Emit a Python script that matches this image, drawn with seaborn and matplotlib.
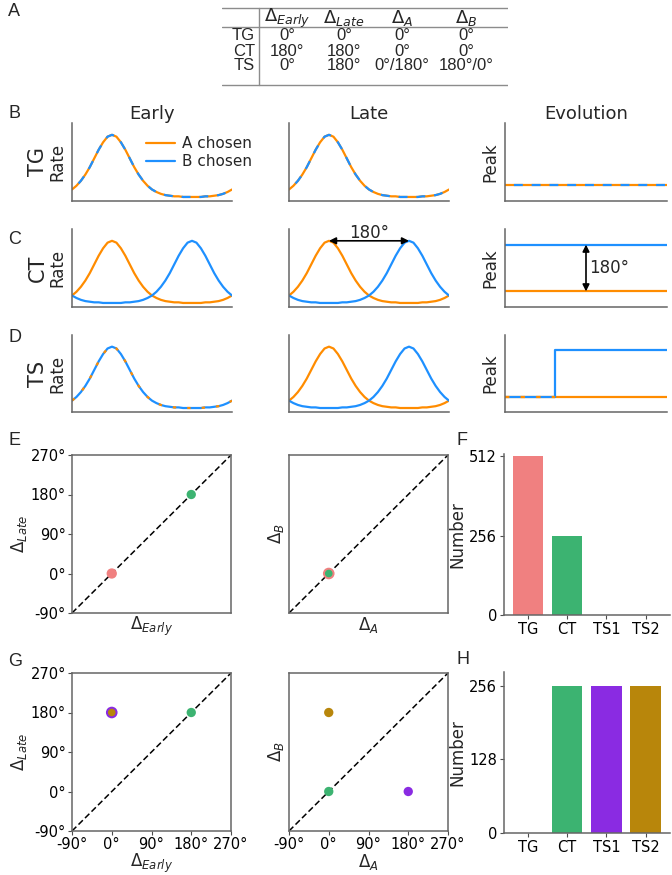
import numpy as np
import pandas as pd
import matplotlib
matplotlib.use("Agg")
import matplotlib.pyplot as plt
import seaborn as sns

angles = [0, 10, 20, 30, 40, 50, 60, 70, 80, 90, 100, 110, 120, 130, 140, 150, 160, 170, 180,
          190, 200, 210, 220, 230, 240, 250, 260, 270, 280, 290, 300, 310, 320, 330, 340, 350, 360]
rate_peak90 = [0.12, 0.18, 0.26, 0.36, 0.48, 0.62, 0.76, 0.88, 0.97, 1.00, 0.97, 0.88, 0.76, 0.62,
               0.48, 0.36, 0.26, 0.18, 0.12, 0.08, 0.05, 0.03, 0.02, 0.01, 0.01, 0.00, 0.00, 0.00,
               0.00, 0.00, 0.01, 0.01, 0.02, 0.03, 0.05, 0.08, 0.12]
rate_peak270 = [0.12, 0.08, 0.05, 0.03, 0.02, 0.01, 0.01, 0.00, 0.00, 0.00, 0.00, 0.00, 0.01, 0.01,
                0.02, 0.03, 0.05, 0.08, 0.12, 0.18, 0.26, 0.36, 0.48, 0.62, 0.76, 0.88, 0.97, 1.00,
                0.97, 0.88, 0.76, 0.62, 0.48, 0.36, 0.26, 0.18, 0.12]

# peak evolution (deg), right column
evo_time = [0, 1]
peak_low = [0, 0]
peak_high = [180, 180]
ts_time = [0, 0.31, 1]
ts_peak_B = [0, 180, 180]
ts_before = [0, 0.31]

# table A
table_cols = [r"$\Delta_{Early}$", r"$\Delta_{Late}$", r"$\Delta_{A}$", r"$\Delta_{B}$"]
table_rows = ["TG", "CT", "TS"]
table_cells = [["0°", "0°", "0°", "0°"],
               ["180°", "180°", "0°", "0°"],
               ["0°", "180°", "0°/180°", "180°/0°"]]

# categories and counts (F, H)
categories = ["TG", "CT", "TS1", "TS2"]
cat_colors = {"TG": "#F08080", "CT": "#3CB371", "TS1": "#8A2BE2", "TS2": "#B8860B"}
count_F = [512, 256, 0, 0]
count_H = [0, 256, 256, 256]

# scatter points (E, G)
e_cats = ["TG", "CT"]
e_early = [0, 180]
e_late = [0, 180]
e_A = [0, 0]
e_B = [0, 0]
g_cats = ["TS1", "TS2", "CT"]
g_early = [0, 0, 180]
g_late = [180, 180, 180]
g_A = [180, 0, 0]
g_B = [0, 180, 0]

deg_ticks = [-90, 0, 90, 180, 270]
deg_labels = ["-90°", "0°", "90°", "180°", "270°"]

orange = "#FF8C00"
blue = "#1E90FF"

sns.set_style("ticks")
plt.rcParams["font.family"] = ["DejaVu Sans"]
plt.rcParams["axes.edgecolor"] = "0.4"
plt.rcParams["axes.linewidth"] = 1.1
plt.rcParams["xtick.color"] = "0.3"
plt.rcParams["ytick.color"] = "0.3"
plt.rcParams["xtick.labelcolor"] = "black"
plt.rcParams["ytick.labelcolor"] = "black"

W, H = 672, 875
fig = plt.figure(figsize=(6.72, 8.75), dpi=100)


def px_axes(x0, y0, x1, y1):
    return fig.add_axes([x0 / W, 1 - y1 / H, (x1 - x0) / W, (y1 - y0) / H])


def letter(x, y, s):
    fig.text(x / W, 1 - y / H, s, fontsize=13, family="Liberation Sans", va="center", ha="left")


# ---- A: table ----
tab = px_axes(222, 5, 508, 88)
tab.set_xlim(222, 508)
tab.set_ylim(88, 5)
tab.axis("off")
for yy in [8, 27, 85]:
    tab.plot([222, 508], [yy, yy], color="0.55", lw=1)
tab.plot([259, 259], [8, 85], color="0.55", lw=1)
col_x = [287, 344, 402, 466]
row_y = [36, 51, 66]
for cx, c in zip(col_x, table_cols):
    tab.text(cx, 18, c, ha="center", va="center", fontsize=13, family="Liberation Sans")
for ry, r, cells in zip(row_y, table_rows, table_cells):
    tab.text(255, ry, r, ha="right", va="center", fontsize=12, family="Liberation Sans")
    for cx, c in zip(col_x, cells):
        tab.text(cx, ry, c, ha="center", va="center", fontsize=12, family="Liberation Sans")

# ---- B-D: tuning curves and evolution ----
row_tops = [(123, 201), (229, 307), (335, 412)]
cols = [(72, 232), (289, 449), (505, 667)]
row_names = ["TG", "CT", "TS"]
axs = [[px_axes(c0, r0, c1, r1) for (c0, c1) in cols] for (r0, r1) in row_tops]

for i, row in enumerate(axs):
    for j, ax in enumerate(row):
        sns.despine(ax=ax)
        ax.set_xticks([])
        ax.set_yticks([])
        if j < 2:
            ax.set_xlim(0, 360)
            ax.set_ylim(-0.065, 1.19)
        else:
            ax.set_xlim(0, 1)
            ax.set_ylim(-60, 240)
    row[0].set_ylabel("Rate", fontsize=12, labelpad=4)
    row[2].set_ylabel("Peak", fontsize=12, labelpad=4)
    r0, r1 = row_tops[i]
    fig.text(38 / W, 1 - (r0 + r1) / 2 / H, row_names[i], rotation=90, fontsize=15,
             va="center", ha="center")

for ax, t in zip(axs[0], ["Early", "Late", "Evolution"]):
    ax.set_title(t, fontsize=13, pad=2)

lw = 1.6
# TG row: identical curves
for ax in axs[0][:2]:
    sns.lineplot(x=angles, y=rate_peak90, ax=ax, color=orange, lw=lw, label="A chosen")
    sns.lineplot(x=angles, y=rate_peak90, ax=ax, color=blue, lw=lw, linestyle=(4, (4, 4)),
                 label="B chosen")
axs[0][0].legend(loc="upper left", bbox_to_anchor=(0.46, 0.83), frameon=False, fontsize=11,
                 borderpad=0, borderaxespad=0, handlelength=1.9, handletextpad=0.5,
                 labelspacing=0.2)
leg = axs[0][0].get_legend()
leg.get_lines()[1].set_linestyle("-")
axs[0][1].get_legend().remove()
sns.lineplot(x=evo_time, y=peak_low, ax=axs[0][2], color=orange, lw=lw)
sns.lineplot(x=evo_time, y=peak_low, ax=axs[0][2], color=blue, lw=lw, linestyle=(4, (4, 4)))

# CT row: separated curves
for ax in axs[1][:2]:
    sns.lineplot(x=angles, y=rate_peak90, ax=ax, color=orange, lw=lw)
    sns.lineplot(x=angles, y=rate_peak270, ax=ax, color=blue, lw=lw)
pa = angles[int(np.argmax(rate_peak90))]
pb = angles[int(np.argmax(rate_peak270))]
axs[1][1].annotate("", xy=(pb, max(rate_peak270)), xytext=(pa, max(rate_peak90)),
                   arrowprops=dict(arrowstyle="<|-|>", color="black", lw=1.2,
                                   mutation_scale=10, shrinkA=0, shrinkB=0), annotation_clip=False)
axs[1][1].text((pa + pb) / 2, 1.13, "180°", ha="center", va="center", fontsize=12, clip_on=False)
sns.lineplot(x=evo_time, y=peak_high, ax=axs[1][2], color=blue, lw=lw)
sns.lineplot(x=evo_time, y=peak_low, ax=axs[1][2], color=orange, lw=lw)
axs[1][2].annotate("", xy=(0.5, peak_high[0]), xytext=(0.5, peak_low[0]),
                   arrowprops=dict(arrowstyle="<|-|>", color="black", lw=1.2,
                                   mutation_scale=10, shrinkA=0, shrinkB=0))
axs[1][2].text(0.52, (peak_high[0] + peak_low[0]) / 2, "180°", ha="left", va="center", fontsize=12)

# TS row: same early, separated late
sns.lineplot(x=angles, y=rate_peak90, ax=axs[2][0], color=blue, lw=lw)
sns.lineplot(x=angles, y=rate_peak90, ax=axs[2][0], color=orange, lw=lw, linestyle=(0, (1.5, 5)))
sns.lineplot(x=angles, y=rate_peak90, ax=axs[2][1], color=orange, lw=lw)
sns.lineplot(x=angles, y=rate_peak270, ax=axs[2][1], color=blue, lw=lw)
sns.lineplot(x=evo_time, y=peak_low, ax=axs[2][2], color=orange, lw=lw)
sns.lineplot(x=ts_time, y=ts_peak_B, ax=axs[2][2], color=blue, lw=lw, drawstyle="steps-post")
sns.lineplot(x=ts_before, y=[0, 0], ax=axs[2][2], color=orange, lw=lw, linestyle=(0, (2, 5)))
axs[2][0].set_xlabel("Target A", fontsize=12, labelpad=3)
axs[2][1].set_xlabel("Target A", fontsize=12, labelpad=3)
axs[2][2].set_xlabel("Time from target onset", fontsize=12, labelpad=3)


# ---- E, G: scatter ----
def scatter_box(ax, xs, ys, cats, xl, yl, show_x, show_y, sizes):
    ax.plot([-90, 270], [-90, 270], color="black", lw=1.1, linestyle=(0, (4, 2)))
    for x, y, c, s in zip(xs, ys, cats, sizes):
        sns.scatterplot(x=[x], y=[y], ax=ax, color=cat_colors[c], s=s, edgecolor="none", zorder=3)
    ax.set_xlim(-90, 270)
    ax.set_ylim(-90, 270)
    ax.set_xticks(deg_ticks)
    ax.set_yticks(deg_ticks)
    ax.set_xticklabels(deg_labels if show_x else [])
    ax.set_yticklabels(deg_labels if show_y else [])
    ax.tick_params(length=3, labelsize=10.5, pad=1.5)
    if not show_x:
        ax.tick_params(axis="x", length=0)
    if not show_y:
        ax.tick_params(axis="y", length=0)
    ax.set_xlabel(xl, fontsize=12, labelpad=0)
    ax.set_ylabel(yl, fontsize=12, labelpad=1)


axE1 = px_axes(72, 455, 231, 613)
axE2 = px_axes(289, 455, 448, 613)
axG1 = px_axes(72, 673, 231, 831)
axG2 = px_axes(289, 673, 448, 831)
scatter_box(axE1, e_early, e_late, e_cats, r"$\Delta_{Early}$", r"$\Delta_{Late}$", False, True, [55, 45])
scatter_box(axE2, e_A, e_B, e_cats, r"$\Delta_{A}$", r"$\Delta_{B}$", False, False, [70, 30])
scatter_box(axG1, g_early, g_late, g_cats, r"$\Delta_{Early}$", r"$\Delta_{Late}$", True, True, [70, 30, 45])
scatter_box(axG2, g_A, g_B, g_cats, r"$\Delta_{A}$", r"$\Delta_{B}$", True, False, [45, 45, 45])


# ---- F, H: bars ----
def bars(ax, counts, ymax, ticks):
    sns.barplot(x=categories, y=counts, hue=categories, palette=cat_colors, legend=False,
                ax=ax, width=0.78, saturation=1, edgecolor="none")
    sns.despine(ax=ax)
    ax.set_xlim(-0.61, 3.62)
    ax.set_ylim(0, ymax)
    ax.set_yticks(ticks)
    ax.tick_params(length=3, labelsize=10.5, pad=2)
    ax.set_ylabel("Number", fontsize=12, labelpad=2)


axF = px_axes(504, 454, 670, 615)
axH = px_axes(504, 672, 670, 833)
bars(axF, count_F, 519, [0, 256, 512])
bars(axH, count_H, 280, [0, 128, 256])

for x, y, s in [(8, 12, "A"), (8, 113, "B"), (8, 240, "C"), (8, 338, "D"), (8, 440, "E"),
                (456, 440, "F"), (8, 662, "G"), (456, 660, "H")]:
    letter(x, y, s)

fig.savefig("out.png", dpi=100)
